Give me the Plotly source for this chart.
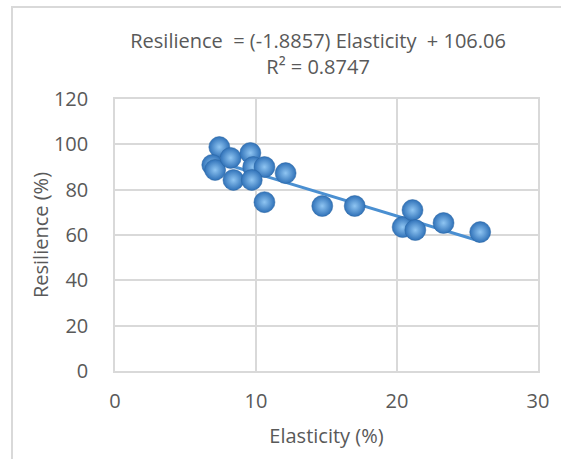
import plotly.graph_objects as go

# elasticity vs resilience readings (%)
elasticity = [7.4, 6.9, 7.1, 8.2, 9.6, 9.8, 10.6, 8.4, 9.7, 12.1, 10.6, 14.7, 17.0, 20.4, 21.1, 21.3, 23.3, 25.9]
resilience = [98.8, 90.9, 88.7, 94.0, 96.2, 90.0, 90.0, 84.3, 84.3, 87.3, 74.5, 72.8, 72.8, 63.5, 71.0, 62.2, 65.3, 61.3]

slope = -1.8857
intercept = 106.06
trend_x = [min(elasticity), max(elasticity)]
trend_y = [slope * v + intercept for v in trend_x]

x_ticks = [0, 10, 20, 30]
y_ticks = [0, 20, 40, 60, 80, 100, 120]

grey = "#595959"
grid = "#d9d9d9"
font = "Open Sans"

fig = go.Figure()

fig.add_trace(go.Scatter(
    x=trend_x, y=trend_y, mode="lines",
    line=dict(color="#4a8fd1", width=3),
    hoverinfo="skip", showlegend=False,
))

fig.add_trace(go.Scatter(
    x=elasticity, y=resilience, mode="markers",
    marker=dict(
        size=21, color="#2f71b8",
        gradient=dict(type="radial", color="#8fc5f2"),
        line=dict(color="#2a64a0", width=0.5),
    ),
    showlegend=False,
))

fig.update_layout(
    width=561, height=459,
    margin=dict(l=115, r=23, t=99, b=88),
    paper_bgcolor="white", plot_bgcolor="white",
    font=dict(family=font, color=grey, size=20),
    title=dict(
        text="Resilience  = (-1.8857) Elasticity  + 106.06<br>R² = 0.8747",
        x=0.567, xanchor="center", y=0.895, yanchor="top",
        font=dict(family=font, size=20, color=grey),
    ),
    shapes=[dict(
        type="rect", xref="paper", yref="paper",
        x0=-0.2435, x1=1.2, y0=-0.5, y1=1.338,
        line=dict(color=grid, width=2), layer="below",
    )],
)

fig.update_xaxes(
    range=[0, 30], tickvals=x_ticks, showgrid=True, gridcolor=grid, gridwidth=1.5,
    zeroline=False, showline=True, linecolor=grid, linewidth=1.5, mirror=True,
    ticks="outside", ticklen=11, tickcolor="rgba(0,0,0,0)",
    tickfont=dict(size=20, color=grey),
    title=dict(text="Elasticity (%)", font=dict(size=20, color=grey), standoff=16),
)
fig.update_yaxes(
    range=[0, 120], tickvals=y_ticks, showgrid=True, gridcolor=grid, gridwidth=1.5,
    zeroline=False, showline=True, linecolor=grid, linewidth=1.5, mirror=True,
    ticks="outside", ticklen=21, tickcolor="rgba(0,0,0,0)",
    tickfont=dict(size=20, color=grey),
    title=dict(text="Resilience (%)", font=dict(size=20, color=grey), standoff=0),
)

# the page body has a default 8px margin; remove it so the figure sits at 0,0
fig.write_html("out.html", config={"displayModeBar": False},
               post_script="document.body.style.margin='0';")
